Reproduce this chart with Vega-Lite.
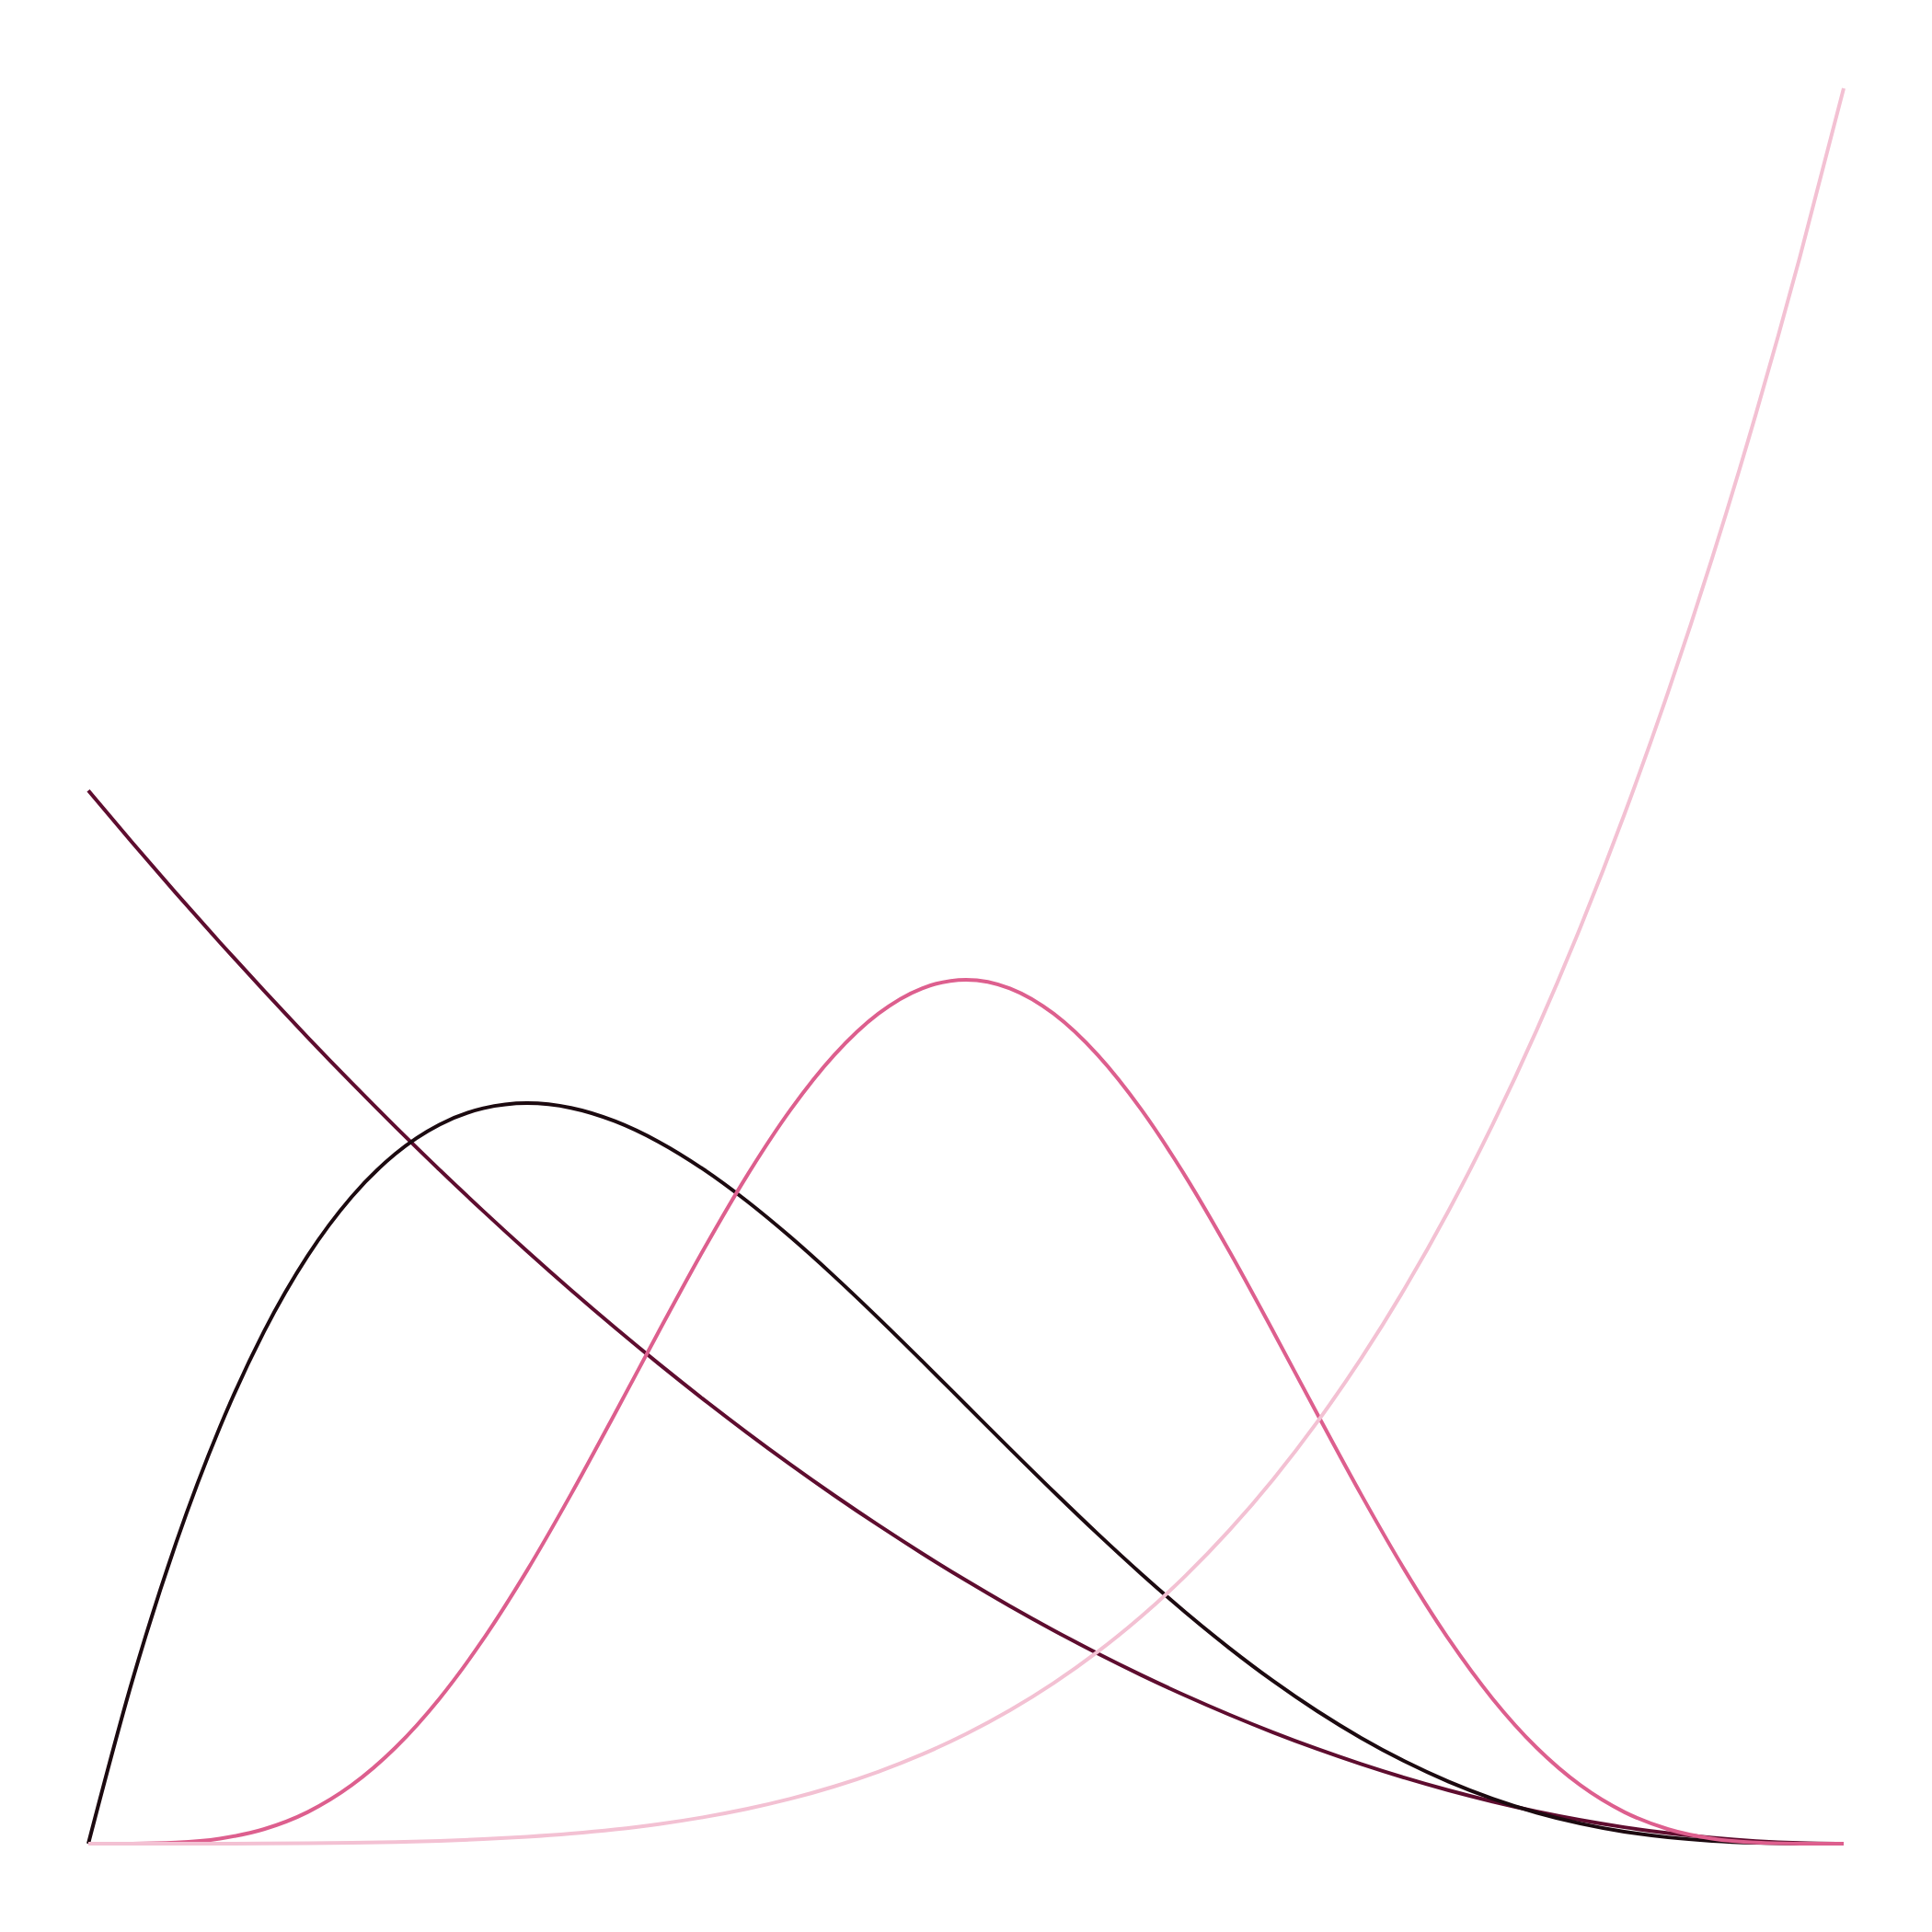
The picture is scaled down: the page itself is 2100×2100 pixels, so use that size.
{
  "$schema": "https://vega.github.io/schema/vega-lite/v6.json",
  "width": 1908,
  "height": 1908,
  "padding": 96,
  "autosize": {"type": "none"},
  "background": "white",
  "config": {"view": {"stroke": null}},
  "data": {"values": [
    {"s":"Beta(1,3)","x":0,"y":3},
    {"s":"Beta(1,3)","x":0.025,"y":2.851875},
    {"s":"Beta(1,3)","x":0.05,"y":2.7075},
    {"s":"Beta(1,3)","x":0.075,"y":2.566875},
    {"s":"Beta(1,3)","x":0.1,"y":2.43},
    {"s":"Beta(1,3)","x":0.125,"y":2.296875},
    {"s":"Beta(1,3)","x":0.15,"y":2.1675},
    {"s":"Beta(1,3)","x":0.175,"y":2.041875},
    {"s":"Beta(1,3)","x":0.2,"y":1.92},
    {"s":"Beta(1,3)","x":0.225,"y":1.801875},
    {"s":"Beta(1,3)","x":0.25,"y":1.6875},
    {"s":"Beta(1,3)","x":0.275,"y":1.576875},
    {"s":"Beta(1,3)","x":0.3,"y":1.47},
    {"s":"Beta(1,3)","x":0.325,"y":1.366875},
    {"s":"Beta(1,3)","x":0.35,"y":1.2675},
    {"s":"Beta(1,3)","x":0.375,"y":1.171875},
    {"s":"Beta(1,3)","x":0.4,"y":1.08},
    {"s":"Beta(1,3)","x":0.425,"y":0.991875},
    {"s":"Beta(1,3)","x":0.45,"y":0.9075},
    {"s":"Beta(1,3)","x":0.475,"y":0.826875},
    {"s":"Beta(1,3)","x":0.5,"y":0.75},
    {"s":"Beta(1,3)","x":0.525,"y":0.676875},
    {"s":"Beta(1,3)","x":0.55,"y":0.6075},
    {"s":"Beta(1,3)","x":0.575,"y":0.541875},
    {"s":"Beta(1,3)","x":0.6,"y":0.48},
    {"s":"Beta(1,3)","x":0.625,"y":0.421875},
    {"s":"Beta(1,3)","x":0.65,"y":0.3675},
    {"s":"Beta(1,3)","x":0.675,"y":0.316875},
    {"s":"Beta(1,3)","x":0.7,"y":0.27},
    {"s":"Beta(1,3)","x":0.725,"y":0.226875},
    {"s":"Beta(1,3)","x":0.75,"y":0.1875},
    {"s":"Beta(1,3)","x":0.775,"y":0.151875},
    {"s":"Beta(1,3)","x":0.8,"y":0.12},
    {"s":"Beta(1,3)","x":0.825,"y":0.091875},
    {"s":"Beta(1,3)","x":0.85,"y":0.0675},
    {"s":"Beta(1,3)","x":0.875,"y":0.046875},
    {"s":"Beta(1,3)","x":0.9,"y":0.03},
    {"s":"Beta(1,3)","x":0.925,"y":0.016875},
    {"s":"Beta(1,3)","x":0.95,"y":0.0075},
    {"s":"Beta(1,3)","x":0.975,"y":0.001875},
    {"s":"Beta(1,3)","x":1,"y":0},
    {"s":"Beta(2,4)","x":0,"y":0},
    {"s":"Beta(2,4)","x":0.025,"y":0.46343},
    {"s":"Beta(2,4)","x":0.05,"y":0.857375},
    {"s":"Beta(2,4)","x":0.075,"y":1.18718},
    {"s":"Beta(2,4)","x":0.1,"y":1.458},
    {"s":"Beta(2,4)","x":0.125,"y":1.674805},
    {"s":"Beta(2,4)","x":0.15,"y":1.842375},
    {"s":"Beta(2,4)","x":0.175,"y":1.965305},
    {"s":"Beta(2,4)","x":0.2,"y":2.048},
    {"s":"Beta(2,4)","x":0.225,"y":2.09468},
    {"s":"Beta(2,4)","x":0.25,"y":2.109375},
    {"s":"Beta(2,4)","x":0.275,"y":2.09593},
    {"s":"Beta(2,4)","x":0.3,"y":2.058},
    {"s":"Beta(2,4)","x":0.325,"y":1.999055},
    {"s":"Beta(2,4)","x":0.35,"y":1.922375},
    {"s":"Beta(2,4)","x":0.375,"y":1.831055},
    {"s":"Beta(2,4)","x":0.4,"y":1.728},
    {"s":"Beta(2,4)","x":0.425,"y":1.61593},
    {"s":"Beta(2,4)","x":0.45,"y":1.497375},
    {"s":"Beta(2,4)","x":0.475,"y":1.37468},
    {"s":"Beta(2,4)","x":0.5,"y":1.25},
    {"s":"Beta(2,4)","x":0.525,"y":1.125305},
    {"s":"Beta(2,4)","x":0.55,"y":1.002375},
    {"s":"Beta(2,4)","x":0.575,"y":0.882805},
    {"s":"Beta(2,4)","x":0.6,"y":0.768},
    {"s":"Beta(2,4)","x":0.625,"y":0.65918},
    {"s":"Beta(2,4)","x":0.65,"y":0.557375},
    {"s":"Beta(2,4)","x":0.675,"y":0.46343},
    {"s":"Beta(2,4)","x":0.7,"y":0.378},
    {"s":"Beta(2,4)","x":0.725,"y":0.301555},
    {"s":"Beta(2,4)","x":0.75,"y":0.234375},
    {"s":"Beta(2,4)","x":0.775,"y":0.176555},
    {"s":"Beta(2,4)","x":0.8,"y":0.128},
    {"s":"Beta(2,4)","x":0.825,"y":0.08843},
    {"s":"Beta(2,4)","x":0.85,"y":0.057375},
    {"s":"Beta(2,4)","x":0.875,"y":0.03418},
    {"s":"Beta(2,4)","x":0.9,"y":0.018},
    {"s":"Beta(2,4)","x":0.925,"y":0.007805},
    {"s":"Beta(2,4)","x":0.95,"y":0.002375},
    {"s":"Beta(2,4)","x":0.975,"y":0.000305},
    {"s":"Beta(2,4)","x":1,"y":0},
    {"s":"Beta(5,5)","x":0,"y":0},
    {"s":"Beta(5,5)","x":0.025,"y":0.000222},
    {"s":"Beta(5,5)","x":0.05,"y":0.003207},
    {"s":"Beta(5,5)","x":0.075,"y":0.014593},
    {"s":"Beta(5,5)","x":0.1,"y":0.041334},
    {"s":"Beta(5,5)","x":0.125,"y":0.09016},
    {"s":"Beta(5,5)","x":0.15,"y":0.166488},
    {"s":"Beta(5,5)","x":0.175,"y":0.273721},
    {"s":"Beta(5,5)","x":0.2,"y":0.412877},
    {"s":"Beta(5,5)","x":0.225,"y":0.582475},
    {"s":"Beta(5,5)","x":0.25,"y":0.778656},
    {"s":"Beta(5,5)","x":0.275,"y":0.995455},
    {"s":"Beta(5,5)","x":0.3,"y":1.22523},
    {"s":"Beta(5,5)","x":0.325,"y":1.459114},
    {"s":"Beta(5,5)","x":0.35,"y":1.68759},
    {"s":"Beta(5,5)","x":0.375,"y":1.901017},
    {"s":"Beta(5,5)","x":0.4,"y":2.09019},
    {"s":"Beta(5,5)","x":0.425,"y":2.246818},
    {"s":"Beta(5,5)","x":0.45,"y":2.36397},
    {"s":"Beta(5,5)","x":0.475,"y":2.436421},
    {"s":"Beta(5,5)","x":0.5,"y":2.460938},
    {"s":"Beta(5,5)","x":0.525,"y":2.436421},
    {"s":"Beta(5,5)","x":0.55,"y":2.36397},
    {"s":"Beta(5,5)","x":0.575,"y":2.246818},
    {"s":"Beta(5,5)","x":0.6,"y":2.09019},
    {"s":"Beta(5,5)","x":0.625,"y":1.901017},
    {"s":"Beta(5,5)","x":0.65,"y":1.68759},
    {"s":"Beta(5,5)","x":0.675,"y":1.459114},
    {"s":"Beta(5,5)","x":0.7,"y":1.22523},
    {"s":"Beta(5,5)","x":0.725,"y":0.995455},
    {"s":"Beta(5,5)","x":0.75,"y":0.778656},
    {"s":"Beta(5,5)","x":0.775,"y":0.582475},
    {"s":"Beta(5,5)","x":0.8,"y":0.412877},
    {"s":"Beta(5,5)","x":0.825,"y":0.273721},
    {"s":"Beta(5,5)","x":0.85,"y":0.166488},
    {"s":"Beta(5,5)","x":0.875,"y":0.09016},
    {"s":"Beta(5,5)","x":0.9,"y":0.041334},
    {"s":"Beta(5,5)","x":0.925,"y":0.014593},
    {"s":"Beta(5,5)","x":0.95,"y":0.003207},
    {"s":"Beta(5,5)","x":0.975,"y":0.000222},
    {"s":"Beta(5,5)","x":1,"y":0},
    {"s":"Beta(5,1)","x":0,"y":0},
    {"s":"Beta(5,1)","x":0.025,"y":0.00000195},
    {"s":"Beta(5,1)","x":0.05,"y":0.00003125},
    {"s":"Beta(5,1)","x":0.075,"y":0.000158},
    {"s":"Beta(5,1)","x":0.1,"y":0.0005},
    {"s":"Beta(5,1)","x":0.125,"y":0.00122},
    {"s":"Beta(5,1)","x":0.15,"y":0.00253125},
    {"s":"Beta(5,1)","x":0.175,"y":0.004689},
    {"s":"Beta(5,1)","x":0.2,"y":0.008},
    {"s":"Beta(5,1)","x":0.225,"y":0.012814},
    {"s":"Beta(5,1)","x":0.25,"y":0.01953125},
    {"s":"Beta(5,1)","x":0.275,"y":0.028596},
    {"s":"Beta(5,1)","x":0.3,"y":0.0405},
    {"s":"Beta(5,1)","x":0.325,"y":0.055783},
    {"s":"Beta(5,1)","x":0.35,"y":0.07503125},
    {"s":"Beta(5,1)","x":0.375,"y":0.098877},
    {"s":"Beta(5,1)","x":0.4,"y":0.128},
    {"s":"Beta(5,1)","x":0.425,"y":0.163127},
    {"s":"Beta(5,1)","x":0.45,"y":0.20503125},
    {"s":"Beta(5,1)","x":0.475,"y":0.254533},
    {"s":"Beta(5,1)","x":0.5,"y":0.3125},
    {"s":"Beta(5,1)","x":0.525,"y":0.379846},
    {"s":"Beta(5,1)","x":0.55,"y":0.45753125},
    {"s":"Beta(5,1)","x":0.575,"y":0.546564},
    {"s":"Beta(5,1)","x":0.6,"y":0.648},
    {"s":"Beta(5,1)","x":0.625,"y":0.762939},
    {"s":"Beta(5,1)","x":0.65,"y":0.89253125},
    {"s":"Beta(5,1)","x":0.675,"y":1.037971},
    {"s":"Beta(5,1)","x":0.7,"y":1.2005},
    {"s":"Beta(5,1)","x":0.725,"y":1.381408},
    {"s":"Beta(5,1)","x":0.75,"y":1.58203125},
    {"s":"Beta(5,1)","x":0.775,"y":1.803752},
    {"s":"Beta(5,1)","x":0.8,"y":2.048},
    {"s":"Beta(5,1)","x":0.825,"y":2.316252},
    {"s":"Beta(5,1)","x":0.85,"y":2.61003125},
    {"s":"Beta(5,1)","x":0.875,"y":2.930908},
    {"s":"Beta(5,1)","x":0.9,"y":3.2805},
    {"s":"Beta(5,1)","x":0.925,"y":3.660471},
    {"s":"Beta(5,1)","x":0.95,"y":4.07253125},
    {"s":"Beta(5,1)","x":0.975,"y":4.51844},
    {"s":"Beta(5,1)","x":1,"y":5}
  ]},
  "mark": {"type": "line", "interpolate": "monotone", "strokeWidth": 4, "clip": false},
  "encoding": {
    "x": {"field": "x", "type": "quantitative", "scale": {"domain": [0, 1], "nice": false, "zero": false}, "axis": null},
    "y": {"field": "y", "type": "quantitative", "scale": {"domain": [0, 5], "nice": false}, "axis": null},
    "color": {"field": "s", "type": "nominal", "legend": null,
      "scale": {"domain": ["Beta(1,3)", "Beta(2,4)", "Beta(5,5)", "Beta(5,1)"],
                "range": ["#5e0d2f", "#1c0a10", "#dd5f8e", "#f3c1d3"]}},
    "detail": {"field": "s"}
  }
}
